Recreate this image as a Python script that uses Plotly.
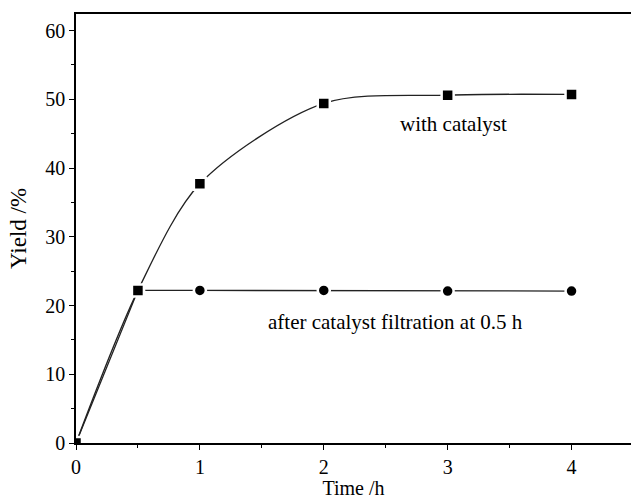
import plotly.graph_objects as go

time_catalyst = [0, 0.5, 1, 2, 3, 4]
yield_catalyst = [0, 22.2, 37.7, 49.4, 50.6, 50.7]

time_filtration = [0, 0.5, 1, 2, 3, 4]
yield_filtration = [0, 22.2, 22.2, 22.2, 22.1, 22.1]

x_ticks = [0, 1, 2, 3, 4]
y_ticks = [0, 10, 20, 30, 40, 50, 60]

FONT = "Liberation Serif, Times New Roman, serif"
LINE = "#222222"

fig = go.Figure()
fig.add_trace(go.Scatter(
    x=time_filtration, y=yield_filtration, mode="lines+markers",
    line=dict(color=LINE, width=1.3, shape="linear"),
    marker=dict(symbol="circle", size=12, color="black", line=dict(color="white", width=2.5)),
    showlegend=False,
))
fig.add_trace(go.Scatter(
    x=time_catalyst, y=yield_catalyst, mode="lines+markers",
    line=dict(color=LINE, width=1.3, shape="spline", smoothing=0.85),
    marker=dict(symbol="square", size=12, color="black", line=dict(color="white", width=2.5)),
    showlegend=False,
))

fig.add_annotation(x=3.05, y=46.4, text="with catalyst", showarrow=False,
                   font=dict(family=FONT, size=21, color="black"))
fig.add_annotation(x=2.575, y=17.6, text="after catalyst filtration at 0.5 h", showarrow=False,
                   font=dict(family=FONT, size=21, color="black"))

axis_common = dict(
    showgrid=False, zeroline=False, showline=True, linecolor="black", linewidth=1.5,
    ticks="outside", ticklen=5, tickwidth=1.3, tickcolor="black",
    tickfont=dict(family=FONT, size=20, color="black"),
)

fig.update_xaxes(
    **axis_common, range=[0, 4.48], tickvals=x_ticks, ticktext=[str(v) for v in x_ticks],
    minor=dict(dtick=0.5, tick0=0, ticks="outside", ticklen=3, tickwidth=1.3, tickcolor="black"),
    mirror=True,
    title=dict(text="Time /h", font=dict(family=FONT, size=20, color="black"), standoff=3),
)
fig.update_yaxes(
    **axis_common, range=[0, 62.4], tickvals=y_ticks, ticktext=[str(v) for v in y_ticks],
    minor=dict(dtick=5, tick0=0, ticks="outside", ticklen=3, tickwidth=1.3, tickcolor="black"),
    title=dict(text="Yield /%", font=dict(family=FONT, size=23, color="black"), standoff=12),
)

fig.update_layout(
    width=631, height=499,
    margin=dict(l=76, r=0, t=14, b=56),
    paper_bgcolor="white", plot_bgcolor="white",
    font=dict(family=FONT, color="black"),
)

fig.write_html("out.html")
